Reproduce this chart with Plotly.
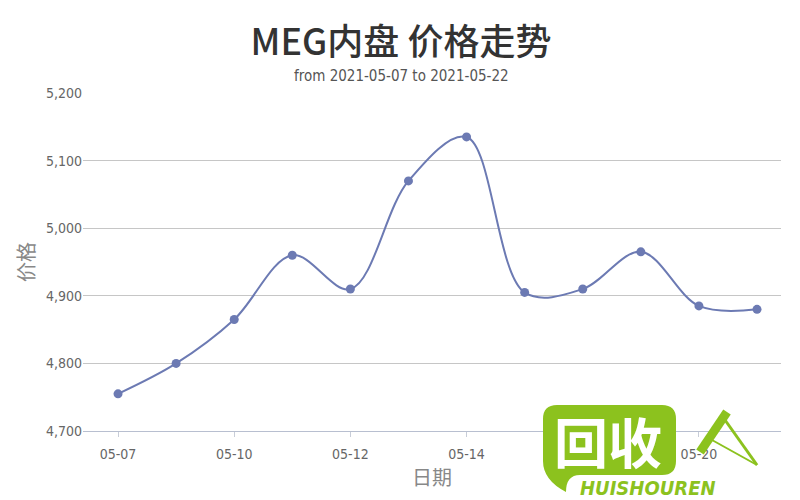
import plotly.graph_objects as go

dates = ["05-07", "05-08", "05-10", "05-11", "05-12", "05-13", "05-14",
         "05-17", "05-18", "05-19", "05-20", "05-21"]
prices = [4755, 4800, 4865, 4960, 4910, 5070, 5135, 4905, 4910, 4965, 4885, 4880]
tick_dates = ["05-07", "05-10", "05-12", "05-14", "05-18", "05-20"]
y_ticks = [4700, 4800, 4900, 5000, 5100, 5200]
y_tick_text = ["4,700", "4,800", "4,900", "5,000", "5,100", "5,200"]

narrow = "Liberation Sans Narrow, DejaVu Sans Condensed, Noto Sans CJK SC, sans-serif"
cjk = "Noto Sans CJK SC, sans-serif"
line_color = "#6c7ab3"

# page has an 8px body margin, so the figure is placed at (8, 8)
OFF = 8
W, H = 800 - OFF, 500 - OFF
L, T = 83 - OFF, 93 - OFF
R = W - (781 - OFF)
B = H - (431 - OFF)
pw, ph = W - L - R, H - T - B


def px(x):
    return (x - OFF - L) / pw


def py(y):
    return (H - B - (y - OFF)) / ph


fig = go.Figure()
fig.add_trace(go.Scatter(
    x=dates, y=prices, mode="lines+markers",
    line=dict(color=line_color, width=2, shape="spline", smoothing=1.0),
    marker=dict(color=line_color, size=9),
    hoverinfo="x+y", showlegend=False,
))

fig.update_layout(
    width=W, height=H,
    margin=dict(l=L, r=R, t=T, b=B),
    paper_bgcolor="white", plot_bgcolor="white",
    title=dict(text="MEG内盘 价格走势", x=(401 - OFF) / W, xanchor="center",
               y=1 - (42 - OFF) / H, yanchor="middle",
               font=dict(family=cjk, size=36, color="#333333", weight=500)),
    xaxis=dict(
        type="category", range=[-0.603, len(dates) - 1 + 0.413],
        tickmode="array", tickvals=tick_dates, ticktext=tick_dates,
        ticks="outside", ticklen=5, tickcolor="#c8cdd8", tickwidth=1,
        ticklabelstandoff=5,
        showline=True, linecolor="#b8bfd0", linewidth=1,
        showgrid=False, zeroline=False,
        tickfont=dict(family=narrow, size=14, color="#666666"),
        title=dict(text="日期", font=dict(family=cjk, size=20, color="#888888"), standoff=8),
    ),
    yaxis=dict(
        range=[4700, 5200], tickmode="array", tickvals=y_ticks, ticktext=y_tick_text,
        showgrid=True, gridcolor="#c6c6c6", gridwidth=1,
        zeroline=False, showline=False, ticks="",
        tickfont=dict(family=narrow, size=14, color="#666666"),
        title=dict(text="价格", font=dict(family=cjk, size=20, color="#888888"), standoff=5),
    ),
)

fig.add_annotation(text="from 2021-05-07 to 2021-05-22", x=px(401), xref="paper", xanchor="center",
                   y=py(76), yref="paper", yanchor="middle", showarrow=False,
                   font=dict(family=narrow, size=15, color="#555555"))

# watermark approximation (green speech-bubble logo)
green = "#8cc21e"
x0, x1, y0, y1, r = px(543), px(676), py(475), py(405), 14
rx, ry = r / pw, r / ph
path = (f"M {x0+rx},{y1} L {x1-rx},{y1} Q {x1},{y1} {x1},{y1-ry} "
        f"L {x1},{y0+ry} Q {x1},{y0} {x1-rx},{y0} "
        f"L {px(580)},{y0} Q {px(566)},{y0} {px(566)},{py(492)} "
        f"Q {x0},{py(480)} {x0},{y0+ry} "
        f"L {x0},{y1-ry} Q {x0},{y1} {x0+rx},{y1} Z")
fig.add_shape(type="path", path=path, xref="paper", yref="paper",
              fillcolor=green, line=dict(width=0), layer="above")
fig.add_annotation(text="<b>回收</b>", xref="paper", yref="paper",
                   x=px(608), y=py(440), xanchor="center", yanchor="middle", showarrow=False,
                   font=dict(family=cjk, size=54, color="white"))
fig.add_annotation(text="<b><i>HUISHOUREN</i></b>", xref="paper", yref="paper",
                   x=px(648), y=py(488), xanchor="center", yanchor="middle", showarrow=False,
                   font=dict(family="DejaVu Sans Condensed, sans-serif", size=20, color=green))
fig.add_shape(type="line", xref="paper", yref="paper",
              x0=px(700), y0=py(452), x1=px(727), y1=py(412),
              line=dict(color=green, width=9), layer="above")
fig.add_shape(type="line", xref="paper", yref="paper",
              x0=px(725), y0=py(420), x1=px(757), y1=py(465),
              line=dict(color=green, width=3), layer="above")
fig.add_shape(type="line", xref="paper", yref="paper",
              x0=px(712), y0=py(440), x1=px(757), y1=py(465),
              line=dict(color=green, width=2), layer="above")

fig.write_html("out.html")
